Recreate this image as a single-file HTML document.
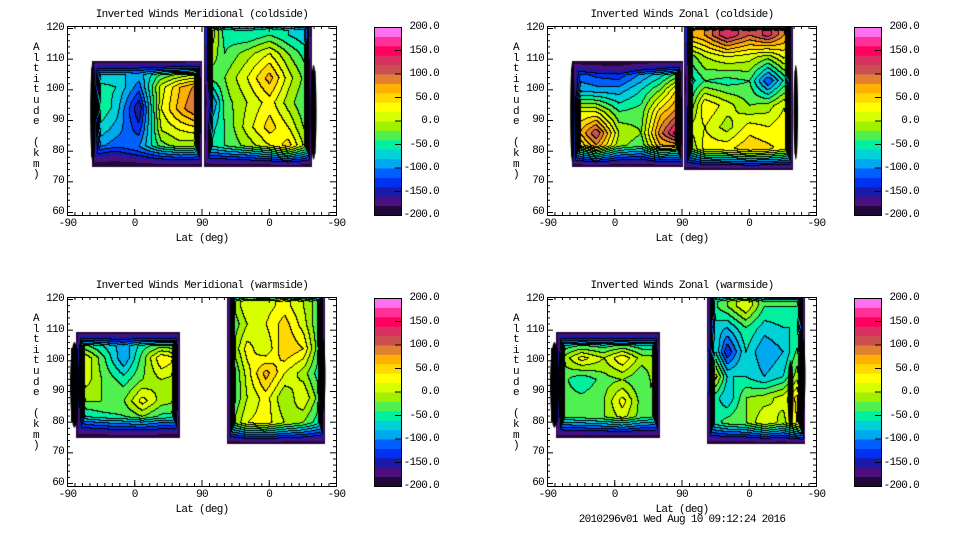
<!DOCTYPE html>
<html><head><meta charset="utf-8"><style>
body{margin:0;background:#fff;width:960px;height:540px;overflow:hidden;position:relative;font-family:"Liberation Mono","DejaVu Sans Mono",monospace;}
.t{position:absolute;font-size:11px;letter-spacing:-0.7px;color:#000;white-space:pre;line-height:12px}
canvas{position:absolute}
svg{position:absolute;left:0;top:0}
</style></head><body>
<canvas id="c0" width="270" height="190" style="left:67px;top:26px"></canvas>
<canvas id="c1" width="270" height="190" style="left:547px;top:26px"></canvas>
<canvas id="c2" width="270" height="190" style="left:67px;top:297px"></canvas>
<canvas id="c3" width="270" height="190" style="left:547px;top:297px"></canvas>
<svg id="ov" width="960" height="540"></svg>
<div id="txt"></div>
<script>
// colour levels (-200..200 step 20)
const levelColors=["#200838","#4a1080","#1a1aa8","#0030f0","#0060ff","#00a8f0","#00d0d8","#00f0a0","#50f050","#a0f000","#d8ff00","#ffff00","#ffd800","#ffb000","#e08030","#c85050","#d83060","#ff0060","#ff3098","#ff70f0"];
const cbarLabels=["200.0","150.0","100.0","50.0","0.0","-50.0","-100.0","-150.0","-200.0"];
const cbarValues=[200,150,100,50,0,-50,-100,-150,-200];
const xTickLabels=["-90","0","90","0","-90"];
const yTickValues=[60,70,80,90,100,110,120];
const panelTitles=["Inverted Winds Meridional (coldside)","Inverted Winds Zonal (coldside)","Inverted Winds Meridional (warmside)","Inverted Winds Zonal (warmside)"];

// grid columns (u: 0..360 along axis) and rows (altitude km)
const colsA1=[35,65,95,125,150,175];
const colsB1=[185,210,240,270,295,325];
const colsA2=[18,45,75,100,125,148];
const colsB2=[213,240,265,290,315,340];
const rowsA1=[80,87,94,101,107];
const rowsA2=[80,86,93,100,107];
const rowsB1=[80,88,96,104,112,118];
const rowsB2=[80,88,95,103,111,118];

// Meridional coldside
const mcA=[[-100,-120,-90,-40,-20,-30],[-60,-90,-130,0,20,30],[-30,-70,-160,20,70,110],[-50,-60,-110,10,60,90],[-90,-80,-80,-60,-50,-40]];
const mcB=[[-60,-40,-20,10,60,-20],[-80,-40,10,50,20,-40],[-140,-30,0,30,-10,-50],[-40,-20,20,70,10,-40],[10,-40,-10,20,-20,-60],[40,-50,-60,-40,-60,-80]];
// Zonal coldside
const zcA=[[-20,60,-20,-40,40,20],[40,120,0,-20,90,160],[20,20,-40,-30,50,90],[-80,-90,-90,-60,-20,50],[-120,-140,-150,-110,-90,-60]];
const zcB=[[-40,30,40,60,50,20],[0,20,-10,30,20,40],[-60,40,10,-20,-10,30],[-80,-40,-50,-40,-120,-30],[-40,0,20,10,-10,40],[60,80,140,100,130,60]];
// Meridional warmside
const mwA=[[-80,-60,-50,-40,-60,-60],[-20,-20,-20,30,-10,-20],[20,-20,-50,-20,0,-10],[30,-30,-100,-30,40,20],[-60,-70,-90,-60,-60,-60]];
const mwB=[[-40,20,30,0,-20,-60],[-60,0,30,-20,20,-40],[-70,10,70,20,-10,-60],[-40,30,0,60,40,-50],[-50,0,20,50,10,-50],[-40,20,10,30,0,-40]];
// Zonal warmside
const zwA=[[-40,-30,-20,0,-30,-40],[-30,-30,-20,30,-30,-20],[-30,-60,-30,-20,-40,0],[-20,30,0,40,-10,-10],[-70,-70,-70,-70,-70,-70]];
const zwB=[[-60,-30,-20,20,-10,60],[-30,-80,-20,-10,10,60],[60,-60,-60,-80,-60,10],[0,-140,-60,-100,-80,-20],[-60,-80,-40,-70,-60,-60],[-60,-20,20,-40,-40,-40]];

const panels=[
 {cv:"c0",ox:67,oy:26,blocks:[
   {u0:33,u1:180,a0:75,a1:109.5,cols:colsA1,rows:rowsA1,vals:mcA},
   {u0:183,u1:327,a0:75,a1:124,cols:colsB1,rows:rowsB1,vals:mcB}],
  rims:[[31,38,76,109],[326,334,77,108]]},
 {cv:"c1",ox:547,oy:26,blocks:[
   {u0:33,u1:181,a0:75,a1:109.5,cols:colsA1,rows:rowsA2,vals:zcA},
   {u0:183,u1:328,a0:74,a1:124,cols:colsB1,rows:rowsB2,vals:zcB}],
  rims:[[31,37,76,109],[330,336,77,108]]},
 {cv:"c2",ox:67,oy:297,blocks:[
   {u0:12,u1:150,a0:75,a1:109.5,cols:colsA2,rows:rowsA1,vals:mwA},
   {u0:213,u1:345,a0:73,a1:124,cols:colsB2,rows:rowsB1,vals:mwB}],
  rims:[[4,16,78,106],[336,346,82,108]]},
 {cv:"c3",ox:547,oy:297,blocks:[
   {u0:12,u1:150,a0:75,a1:109.5,cols:colsA2,rows:rowsA1,vals:zwA},
   {u0:213,u1:345,a0:73,a1:124,cols:colsB2,rows:rowsB2,vals:zwB}],
  rims:[[4,16,78,106],[322,330,78,100],[336,346,82,108]]}
];
const PW=269, PH=189;
const uToX=u=>u*PW/360;
const aToY=a=>2+(120-a)*(184/60);
const xToU=x=>x*360/PW;
const yToA=y=>120-(y-2)*60/184;
function interp1(arr,v){let n=arr.length;if(v<=arr[0])return[0,0,0];if(v>=arr[n-1])return[n-1,n-1,0];for(let i=0;i<n-1;i++){if(v<=arr[i+1])return[i,i+1,(v-arr[i])/(arr[i+1]-arr[i])];}return[n-1,n-1,0];}
function valAt(b,u,a){const [c0,c1,tc]=interp1(b.cols,u),[r0,r1,tr]=interp1(b.rows,a);
 const v0=b.vals[r0][c0]*(1-tc)+b.vals[r0][c1]*tc, v1=b.vals[r1][c0]*(1-tc)+b.vals[r1][c1]*tc;
 let v=v0*(1-tr)+v1*tr;
 let t=Math.min(1,(a-b.a0)/7,(b.a1-a)/4.5,(u-b.u0)/11,(b.u1-u)/11);
 t=Math.max(0,t);return -200+(v+200)*t;}
function hex(c){return[parseInt(c.slice(1,3),16),parseInt(c.slice(3,5),16),parseInt(c.slice(5,7),16)];}
const rgb=levelColors.map(hex);
panels.forEach(p=>{
 const cv=document.getElementById(p.cv),ctx=cv.getContext('2d');
 const W=cv.width,H=cv.height,lv=new Int16Array(W*H).fill(-1);
 for(let y=0;y<H;y++)for(let x=0;x<W;x++){const u=xToU(x),a=yToA(y);
  for(const b of p.blocks){if(u>=b.u0&&u<=b.u1&&a>=b.a0&&a<=b.a1){const v=valAt(b,u,a);lv[y*W+x]=Math.max(0,Math.min(19,Math.floor((v+200)/20)));break;}}}
 const img=ctx.createImageData(W,H);
 for(let y=0;y<H;y++)for(let x=0;x<W;x++){const i=y*W+x,l=lv[i];if(l<0)continue;
  let c=rgb[l];const le=x>0?lv[i-1]:l,up=y>0?lv[i-W]:l;
  if(l>=2&&((le>=2&&le!==l)||(up>=2&&up!==l)))c=[0,0,0];
  img.data[i*4]=c[0];img.data[i*4+1]=c[1];img.data[i*4+2]=c[2];img.data[i*4+3]=255;}
 ctx.putImageData(img,0,0);
 ctx.fillStyle="#000";
 p.rims.forEach(r=>{const x0=uToX(r[0]),x1=uToX(r[1]),y0=aToY(r[3]),y1=aToY(r[2]);
  ctx.beginPath();ctx.ellipse((x0+x1)/2,(y0+y1)/2,(x1-x0)/2,(y1-y0)/2,0,0,Math.PI*2);ctx.fill();
  ctx.fillRect(x0+1,y0+6,x1-x0-2,y1-y0-12);});
});
// axes, colorbars, text
const ov=document.getElementById('ov'),NS="http://www.w3.org/2000/svg",txt=document.getElementById('txt');
function el(tag,attrs,parent){const e=document.createElementNS(NS,tag);for(const k in attrs)e.setAttribute(k,attrs[k]);(parent||ov).appendChild(e);return e;}
function label(s,x,y,align){const d=document.createElement('div');d.className='t';d.textContent=s;d.style.top=(y-6)+'px';
 if(align==='r'){d.style.right=(960-x)+'px';}else if(align==='c'){d.style.left=x+'px';d.style.transform='translateX(-50%)';}else d.style.left=x+'px';
 txt.appendChild(d);return d;}
panels.forEach((p,k)=>{
 const g=el('g',{});
 
 
 const r=el('rect',{x:p.ox+0.5,y:p.oy+0.5,width:PW,height:PH,fill:'none',stroke:'#000','stroke-width':1},g);
 
 
 for(let a=58;a<=122;a+=2){const y=p.oy+aToY(a)+0.5;if(y<p.oy||y>p.oy+PH)continue;const L=(a%10===0)?6:3;
  el('line',{x1:p.ox,x2:p.ox+L,y1:y,y2:y,stroke:'#000'},g);el('line',{x1:p.ox+PW-L,x2:p.ox+PW,y1:y,y2:y,stroke:'#000'},g);}
 xTickLabels.forEach((s,i)=>{const x=p.ox+uToX(i*90)+0.5;
  el('line',{x1:x,x2:x,y1:p.oy+PH-6,y2:p.oy+PH,stroke:'#000'},g);el('line',{x1:x,x2:x,y1:p.oy,y2:p.oy+6,stroke:'#000'},g);
  const d=label(s,x,p.oy+PH+9,'c');});
 for(let i=0;i<=36;i++){const x=p.ox+uToX(i*10)+0.5;el('line',{x1:x,x2:x,y1:p.oy+PH-3,y2:p.oy+PH,stroke:'#000'},g);el('line',{x1:x,x2:x,y1:p.oy,y2:p.oy+3,stroke:'#000'},g);}
 yTickValues.forEach(a=>{const d=label(String(a),p.ox-3,p.oy+aToY(a),'r');});
 const t=label(panelTitles[k],p.ox+135,p.oy-11,'c');
 const xl=label("Lat (deg)",p.ox+135,p.oy+PH+24,'c');
 const yl=document.createElement('div');yl.className='t';yl.style.left=(p.ox-34)+'px';yl.style.top=(p.oy+17)+'px';yl.style.lineHeight='10.6px';yl.style.width='10px';yl.style.whiteSpace='pre-wrap';
 yl.textContent="A\nl\nt\ni\nt\nu\nd\ne\n \n(\nk\nm\n)";
 txt.appendChild(yl);
 // colorbar
 const cx=p.ox+307,cy=p.oy+1,ch=188,cw=27,cb=el('g',{});
 
 
 levelColors.forEach((c,i)=>{el('rect',{x:cx,y:cy+ch-(i+1)*ch/20,width:cw,height:ch/20+0.5,fill:c},cb);});
 el('rect',{x:cx+0.5,y:cy+0.5,width:cw,height:ch,fill:'none',stroke:'#000'},cb);
 cbarValues.forEach((v,i)=>{const y=cy+ch*(200-v)/400;if(i>0&&i<8)el('line',{x1:cx+cw-6,x2:cx+cw,y1:y,y2:y,stroke:'#000'},cb);
  const d=label(cbarLabels[i],cx+65,y,'r');});
});
const f=label("2010296v01 Wed Aug 10 09:12:24 2016",682,520,'c');


</script>
</body></html>
